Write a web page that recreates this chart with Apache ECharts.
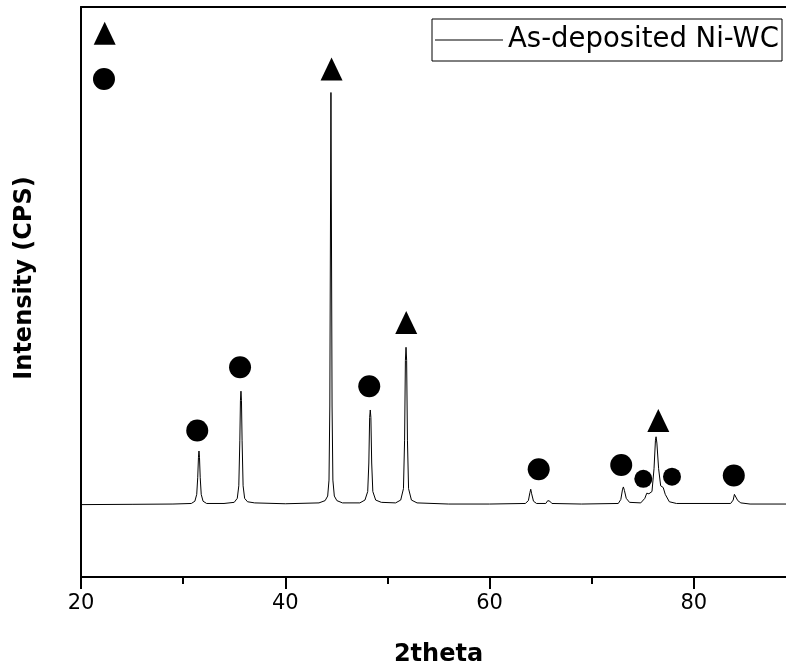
<!DOCTYPE html>
<html>
<head>
<meta charset="utf-8">
<script src="https://cdn.jsdelivr.net/npm/echarts@6/dist/echarts.min.js"></script>
<style>
  body { margin: 0; background: #fff; }
  #xrd { width: 786px; height: 667px; }
</style>
</head>
<body>
<div id="xrd"></div>
<script>
// XRD pattern, as-deposited Ni-WC (intensity in arbitrary units, no y labels shown)
var twoTheta = [20, 25, 29, 30.8, 31.15, 31.33, 31.43, 31.5, 31.55, 31.6, 31.67, 31.77, 31.95, 32.3,
  34, 35.0, 35.3, 35.45, 35.55, 35.61, 35.66, 35.71, 35.77, 35.87, 36.02, 36.3, 37, 40,
  43.3, 43.9, 44.15, 44.28, 44.36, 44.42, 44.47, 44.52, 44.58, 44.66, 44.8, 45.05, 45.6,
  47.3, 47.8, 48.07, 48.18, 48.26, 48.32, 48.38, 48.46, 48.57, 48.85, 49.4,
  50.8, 51.3, 51.57, 51.68, 51.76, 51.82, 51.88, 51.96, 52.07, 52.35, 52.9, 56, 60,
  63.5, 63.8, 63.95, 64.03, 64.12, 64.3, 64.6, 65.5, 65.7, 65.78, 65.9, 66.1, 69,
  72.6, 72.85, 73.02, 73.1, 73.2, 73.38, 73.7, 74.8, 75.2, 75.39, 75.6, 75.9, 76.1, 76.24, 76.3, 76.38, 76.55, 76.75, 77.0, 77.2, 77.6, 78.3,
  83.6, 83.85, 83.97, 84.03, 84.12, 84.3, 84.6, 85.5, 90];
var intensity = [127, 127.5, 128, 129, 133, 145, 175, 210, 221, 210, 175, 145, 133, 129,
  129, 131, 138, 160, 240, 310, 326, 310, 240, 160, 138, 132, 130, 128.5,
  130, 134, 142, 170, 300, 600, 850, 600, 300, 170, 142, 134, 130,
  130, 135, 150, 200, 280, 293, 280, 200, 150, 135, 131,
  130, 135, 155, 240, 380, 403, 380, 240, 155, 135, 130, 128, 128,
  129, 134, 148, 154, 146, 133, 129, 129, 134, 137, 133, 129, 128,
  129, 136, 154, 158, 152, 138, 131, 130, 138, 147, 146, 150, 190, 240, 246, 235, 190, 160, 157, 145, 132, 129,
  129, 135, 145, 147, 143, 134, 130, 128, 128];

// phase markers (triangle / circle) placed above the peaks
var triangleX = [22.32, 44.53, 51.84, 76.52];
var triangleY = [953.9, 891.2, 446.5, 274.6];
var circleX = [22.25, 31.38, 35.57, 48.22, 64.81, 72.89, 83.91];
var circleY = [873.7, 257, 368.1, 334.7, 189.1, 196.5, 178.1];
var smallCircleX = [75.05, 77.86];
var smallCircleY = [172.3, 176];

var xTicks = [20, 40, 60, 80];

function pairs(xs, ys) {
  var out = [];
  for (var i = 0; i < xs.length; i++) out.push([xs[i], ys[i]]);
  return out;
}

var myChart = echarts.init(document.getElementById('xrd'));
var option = {
  animation: false,
  backgroundColor: '#fff',
  // plot runs to 90 deg, a bit past the right edge of the picture
  grid: { left: 81, right: -10, top: 7, bottom: 90, outerBoundsMode: 'none', containLabel: false },
  legend: {
    data: [{ name: 'As-deposited Ni-WC', icon: 'rect' }],
    right: 4, top: 19,
    borderColor: '#000', borderWidth: 1,
    padding: [7, 3, 7, 3],
    itemWidth: 68, itemHeight: 1,
    itemStyle: { color: '#000' },
    textStyle: { fontSize: 27.5, fontFamily: 'DejaVu Sans', color: '#000' }
  },
  xAxis: [{
    type: 'value', min: 20, max: 90, interval: 10,
    name: '2theta', nameLocation: 'middle', nameGap: 66,
    nameTextStyle: { fontSize: 24, fontWeight: 'bold', fontFamily: 'DejaVu Sans', color: '#000' },
    axisLine: { lineStyle: { color: '#000', width: 2 } },
    axisTick: { inside: false, length: 7, lineStyle: { color: '#000', width: 2 } },
    axisLabel: {
      margin: 16, fontSize: 21, fontFamily: 'DejaVu Sans', color: '#000',
      formatter: function (v) { return xTicks.indexOf(v) >= 0 ? String(v) : ''; }
    },
    splitLine: { show: false }
  }, {
    type: 'value', min: 20, max: 90, interval: 20, position: 'bottom',
    axisLine: { show: false },
    axisTick: { inside: false, length: 12, lineStyle: { color: '#000', width: 2 } },
    axisLabel: { show: false },
    splitLine: { show: false }
  }, {
    type: 'value', min: 20, max: 90, position: 'top',
    axisLine: { show: true, lineStyle: { color: '#000', width: 2 } },
    axisTick: { show: false },
    axisLabel: { show: false },
    splitLine: { show: false }
  }],
  yAxis: {
    type: 'value', min: 0, max: 1000,
    name: 'Intensity (CPS)', nameLocation: 'middle', nameGap: 44,
    nameTextStyle: { fontSize: 24, fontWeight: 'bold', fontFamily: 'DejaVu Sans', color: '#000', padding: [0, 0, 0, 28] },
    axisLine: { show: true, lineStyle: { color: '#000', width: 2 } },
    axisTick: { show: false },
    axisLabel: { show: false },
    splitLine: { show: false }
  },
  series: [{
    name: 'As-deposited Ni-WC',
    type: 'line',
    data: pairs(twoTheta, intensity),
    symbol: 'none',
    lineStyle: { color: '#000', width: 1 },
    itemStyle: { color: '#000' }
  }, {
    name: 'triangle',
    type: 'scatter',
    data: pairs(triangleX, triangleY),
    symbol: 'triangle', symbolSize: [22, 23],
    itemStyle: { color: '#000', opacity: 1 }
  }, {
    name: 'circle',
    type: 'scatter',
    data: pairs(circleX, circleY),
    symbol: 'circle', symbolSize: 22,
    itemStyle: { color: '#000', opacity: 1 }
  }, {
    name: 'small circle',
    type: 'scatter',
    data: pairs(smallCircleX, smallCircleY),
    symbol: 'circle', symbolSize: 18,
    itemStyle: { color: '#000', opacity: 1 }
  }]
};
myChart.setOption(option);
</script>
</body>
</html>
